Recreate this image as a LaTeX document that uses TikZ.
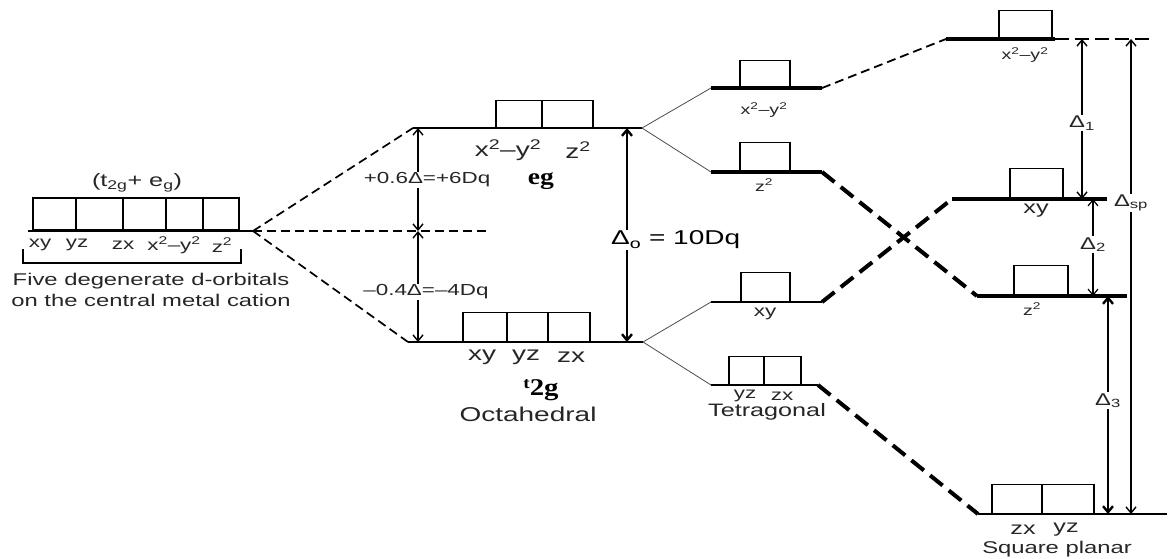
\documentclass[tikz,border=0pt]{standalone}
\usepackage{fontspec}
\setmainfont{Liberation Sans}[FakeStretch=1.4]
\newfontfamily\serifbold{Liberation Serif}[FakeStretch=1.2]
\usetikzlibrary{arrows.meta}
\tikzset{
  lvl/.style={line width=1.2pt},
  tlvl/.style={line width=3.5pt},
  blvl/.style={line width=2.5pt},
  orb/.style={draw, line width=1.5pt, inner sep=0pt, anchor=south west},
  split/.style={line width=0.8pt, black!70},
  dsh/.style={dash pattern=on 9pt off 5pt, line width=1.7pt},
  tdsh/.style={dash pattern=on 16pt off 8pt, line width=4pt},
  dim/.style={{Straight Barb[length=6pt,width=10pt]}-{Straight Barb[length=6pt,width=10pt]}, line width=1.4pt},
  tdim/.style={dim, line width=2.4pt},
  lab/.style={font=\fontsize{16}{16}\selectfont, inner sep=1pt, text=black!85},
  slab/.style={font=\fontsize{14}{14}\selectfont, inner sep=1pt, text=black!85},
  mlab/.style={font=\fontsize{18}{18}\selectfont, inner sep=1pt, text=black!85},
  blab/.style={font=\fontsize{20}{20}\selectfont, inner sep=1pt, text=black!85},
  wlab/.style={font=\fontsize{16}{16}\selectfont, inner sep=1pt, fill=white, text=black!85},
  dlab/.style={font=\fontsize{17}{17}\selectfont, inner sep=1pt, fill=white, text=black!85},
}
\begin{document}
\begin{tikzpicture}[x=1pt,y=-1pt]
\useasboundingbox (0,0) rectangle (1173,558);

% ---------- level end points ----------
\coordinate (Lb0) at (28,231);   \coordinate (Lb1) at (253,231);
\coordinate (mid) at (487,231);
\coordinate (egL) at (413,128);  \coordinate (egR) at (642,128);
\coordinate (tL)  at (408,342);  \coordinate (tR)  at (643,342);
\coordinate (Tx1) at (711,88);   \coordinate (Tx2) at (822,88);
\coordinate (Tz1) at (711,172);  \coordinate (Tz2) at (822,172);
\coordinate (Txy1) at (711,302); \coordinate (Txy2) at (822,302);
\coordinate (Tyz1) at (711,385); \coordinate (Tyz2) at (818,385);
\coordinate (Sx1) at (946,39);   \coordinate (Sx2) at (1055,39);  \coordinate (Sx3) at (1152,39);
\coordinate (Sxy1) at (952,199); \coordinate (Sxy2) at (1107,199);
\coordinate (Sz1) at (977,296);  \coordinate (Sz2) at (1127,296);
\coordinate (Sb1) at (978,514);  \coordinate (Sb2) at (1167,514);

% ---------- free d orbitals ----------
\node[orb, line width=1.8pt, minimum width=43pt, minimum height=32pt] (L1) at (32,231) {};
\node[orb, line width=1.8pt, minimum width=47pt, minimum height=32pt] (L2) at (75,231) {};
\node[orb, line width=1.8pt, minimum width=43pt, minimum height=32pt] (L3) at (122,231) {};
\node[orb, line width=1.8pt, minimum width=37pt, minimum height=32pt] (L4) at (165,231) {};
\node[orb, line width=1.8pt, minimum width=36pt, minimum height=32pt] (L5) at (202,231) {};
\draw[blvl] (Lb0) -- (Lb1);
\node[mlab] (tl) at (137,183) {(t\textsubscript{2g}+ e\textsubscript{g})};
\node[lab] (n1) at (40,245) {xy};
\node[lab] (n2) at (77,245) {yz};
\node[lab] (n3) at (123,245) {zx};
\node[lab] (n4) at (174,245) {x\textsuperscript{2}–y\textsuperscript{2}};
\node[lab] (n5) at (222,245) {z\textsuperscript{2}};
\coordinate (br1) at (23,249); \coordinate (br2) at (23,263);
\coordinate (br3) at (241,263); \coordinate (br4) at (241,249);
\draw[line width=1.5pt] (br1) -- (br2) -- (br3) -- (br4);
\node[font=\fontsize{17}{21}\selectfont, align=center, text=black!85] (five) at (151,290)
  {Five degenerate d-orbitals\\on the central metal cation};

% ---------- octahedral ----------
\draw[dsh] (Lb1) -- (egL);
\draw[dsh] (Lb1) -- (tL);
\draw[dsh] (Lb1) -- (mid);
\draw[lvl] (egL) -- (egR);
\draw[lvl] (tL) -- (tR);
\node[orb, minimum width=46pt, minimum height=27pt] (E1) at (495,128) {};
\node[orb, minimum width=51pt, minimum height=27pt] (E2) at (541,128) {};
\node[orb, minimum width=44pt, minimum height=29pt] (T1) at (462,342) {};
\node[orb, minimum width=41pt, minimum height=29pt] (T2) at (506,342) {};
\node[orb, minimum width=42pt, minimum height=29pt] (T3) at (547,342) {};
\node[blab] (e1) at (508,150) {x\textsuperscript{2}–y\textsuperscript{2}};
\node[blab] (e2) at (578,150) {z\textsuperscript{2}};
\node[font=\serifbold\bfseries\fontsize{23}{23}\selectfont] (eg) at (541,181) {eg};
\node[blab] (t1) at (482,357) {xy};
\node[blab] (t2) at (526,357) {yz};
\node[blab] (t3) at (571,357) {zx};
\node[font=\serifbold\bfseries, inner sep=0pt] (t2g) at (541,390)
  {\raisebox{7pt}{\fontsize{16}{16}\selectfont t}\fontsize{24}{24}\selectfont 2g};
\node[blab] (oct) at (528,414) {Octahedral};

\coordinate (a1) at (418,128); \coordinate (a2) at (418,231); \coordinate (a3) at (418,342);
\draw[dim] (a1) -- (a2);
\draw[dim] (a2) -- (a3);
\node[wlab] (p6) at (427,180) {+0.6Δ=+6Dq};
\node[wlab] (m4) at (426,292) {–0.4Δ=–4Dq};
\coordinate (o1) at (627,128); \coordinate (o2) at (627,342);
\draw[tdim] (o1) -- (o2);
\node[font=\fontsize{20}{20}\selectfont, fill=white, inner sep=1pt, anchor=west] (do) at (610,240)
  {Δ\textsubscript{o} = 10Dq};

% ---------- tetragonal ----------
\draw[split] (egR) -- (Tx1);
\draw[split] (egR) -- (Tz1);
\draw[split] (tR) -- (Txy1);
\draw[split] (tR) -- (Tyz1);
\draw[tlvl] (Tx1) -- (Tx2);
\draw[tlvl] (Tz1) -- (Tz2);
\draw[blvl] (Txy1) -- (Txy2);
\draw[blvl] (Tyz1) -- (Tyz2);
\node[orb, minimum width=50pt, minimum height=27pt] (X1) at (739,88) {};
\node[orb, minimum width=50pt, minimum height=29pt] (Z1) at (739,172) {};
\node[orb, minimum width=49pt, minimum height=29pt] (XY1) at (740,302) {};
\node[orb, minimum width=35pt, minimum height=28pt] (YZ1) at (728,385) {};
\node[orb, minimum width=37pt, minimum height=28pt] (ZX1) at (763,385) {};
\node[slab] (tx) at (764,110) {x\textsuperscript{2}–y\textsuperscript{2}};
\node[slab] (tz) at (764,185) {z\textsuperscript{2}};
\node[lab] (txy) at (765,314) {xy};
\node[lab] (tyz) at (745,396) {yz};
\node[lab] (tzx) at (782,396) {zx};
\node[font=\fontsize{18}{18}\selectfont, inner sep=1pt, text=black!85] (tet) at (767,412) {Tetragonal};

% ---------- square planar ----------
\draw[dsh, line width=1.8pt] (Tx2) -- (Sx1);
\draw[tdsh] (Tz2) -- (Sz1);
\draw[tdsh] (Txy2) -- (Sxy1);
\draw[tdsh] (Tyz2) -- (Sb1);
\draw[tlvl] (Sx1) -- (Sx2);
\draw[dsh, line width=1.8pt, dash pattern=on 14pt off 6pt] (Sx2) -- (Sx3);
\draw[tlvl] (Sxy1) -- (Sxy2);
\draw[tlvl] (Sz1) -- (Sz2);
\draw[blvl] (Sb1) -- (Sb2);
\node[orb, minimum width=53pt, minimum height=28pt] (SX) at (998,39) {};
\node[orb, minimum width=53pt, minimum height=30pt] (SXY) at (1009,199) {};
\node[orb, minimum width=54pt, minimum height=30pt] (SZ) at (1013,296) {};
\node[orb, minimum width=50pt, minimum height=29pt] (SZX) at (991,514) {};
\node[orb, minimum width=52pt, minimum height=29pt] (SYZ) at (1041,514) {};
\node[slab] (sx) at (1025,55) {x\textsuperscript{2}–y\textsuperscript{2}};
\node[mlab] (sxy) at (1036,211) {xy};
\node[slab] (sz) at (1032,309) {z\textsuperscript{2}};
\node[mlab] (szx) at (1023,530) {zx};
\node[mlab] (syz) at (1066,530) {yz};
\node[font=\fontsize{17}{17}\selectfont, inner sep=1pt, text=black!85] (sq) at (1057,549) {Square planar};

\coordinate (d1a) at (1082,39);  \coordinate (d1b) at (1082,199);
\coordinate (d2a) at (1093,199); \coordinate (d2b) at (1093,296);
\coordinate (d3a) at (1108,296); \coordinate (d3b) at (1108,514);
\coordinate (dsa) at (1131,39);  \coordinate (dsb) at (1131,514);
\draw[dim] (d1a) -- node[dlab, pos=0.525] {Δ\textsubscript{1}} (d1b);
\draw[dim, line width=1.2pt] (d2a) -- node[dlab, pos=0.47] {Δ\textsubscript{2}} (d2b);
\draw[tdim] (d3a) -- node[dlab, pos=0.48] {Δ\textsubscript{3}} (d3b);
\draw[dim] (dsa) -- node[dlab, pos=0.345] {Δ\textsubscript{sp}} (dsb);
\end{tikzpicture}
\end{document}
